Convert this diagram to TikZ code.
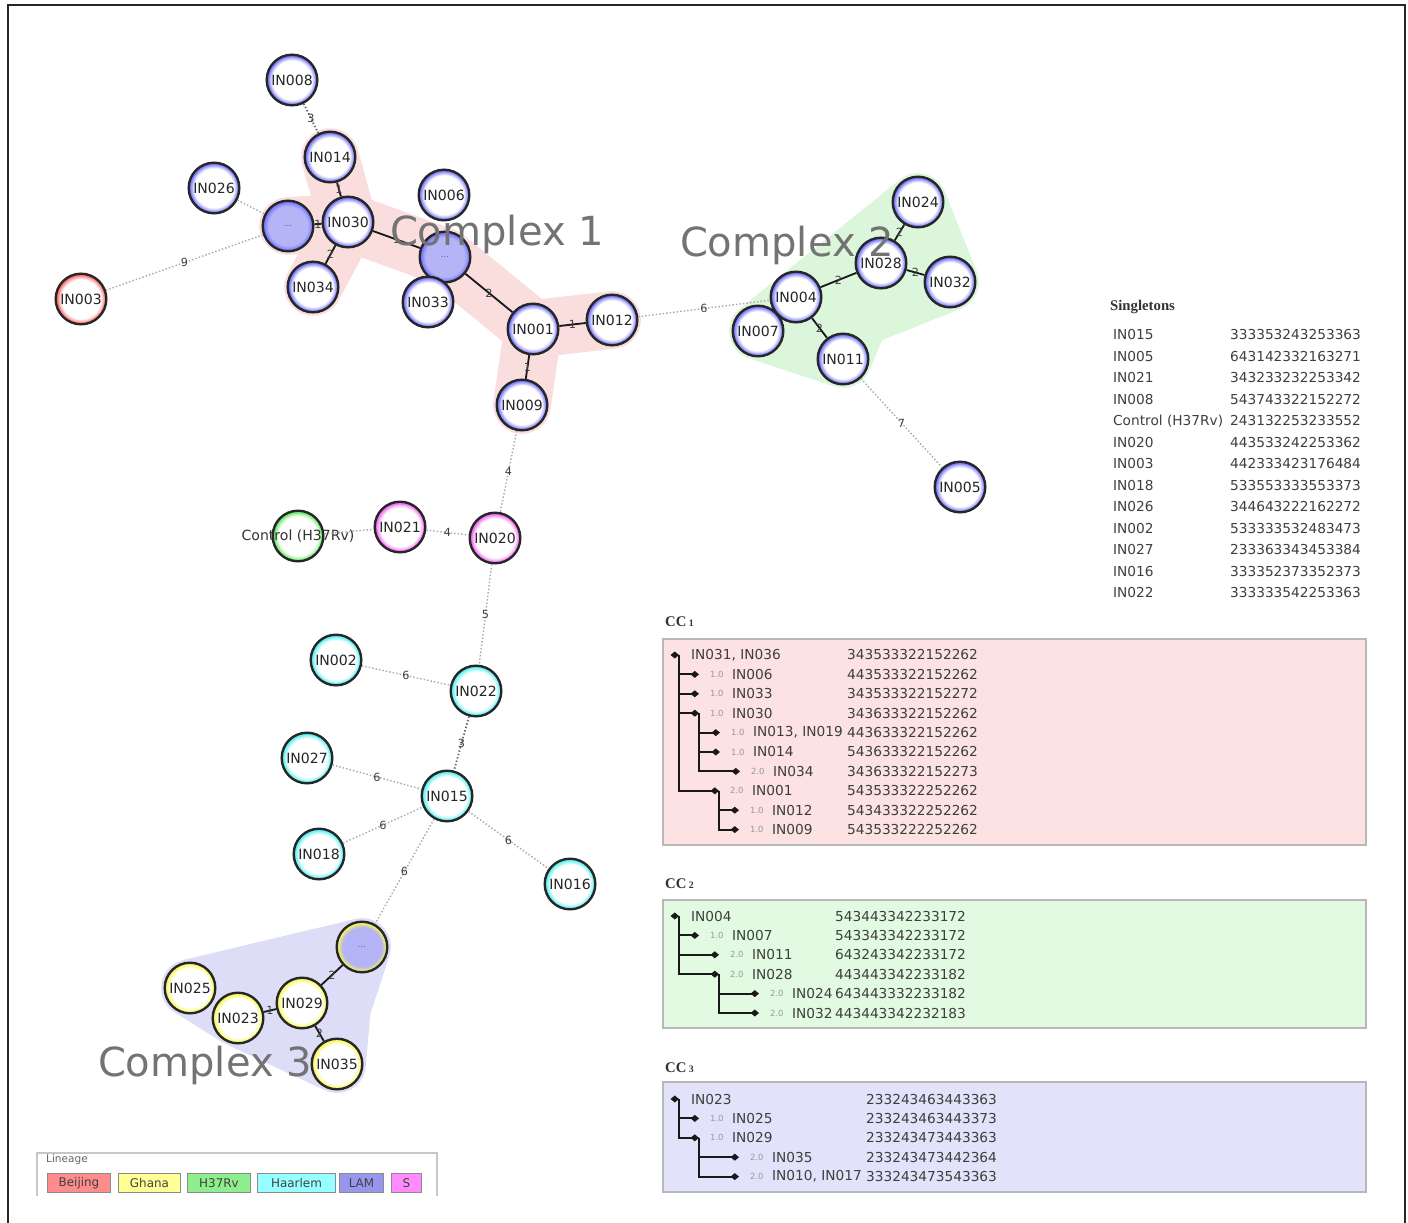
\documentclass[tikz,border=0pt]{standalone}
\usepackage{fontspec}
\setmainfont{DejaVu Sans}
\newfontfamily\headserif{Liberation Serif}
\usepackage{tikz}
\usetikzlibrary{positioning}
\usetikzlibrary{arrows.meta}
\usetikzlibrary{backgrounds}

% lineage colours
\definecolor{ringlam}{RGB}{115,115,255}
\definecolor{ringbeijing}{RGB}{255,105,105}
\definecolor{ringhrv}{RGB}{95,235,95}
\definecolor{ringhaarlem}{RGB}{80,240,240}
\definecolor{rings}{RGB}{245,95,245}
\definecolor{ringghana}{RGB}{248,248,85}
\definecolor{lamfill}{RGB}{180,180,246}
\definecolor{hullpink}{RGB}{250,221,221}
\definecolor{hullgreen}{RGB}{219,246,219}
\definecolor{hullblue}{RGB}{221,221,248}
\definecolor{boxpink}{RGB}{252,226,226}
\definecolor{boxgreen}{RGB}{226,250,226}
\definecolor{boxblue}{RGB}{226,226,250}
\definecolor{swbeijing}{RGB}{255,140,140}
\definecolor{swghana}{RGB}{255,255,150}
\definecolor{swhrv}{RGB}{140,238,140}
\definecolor{swhaarlem}{RGB}{150,255,255}
\definecolor{swlam}{RGB}{150,150,238}
\definecolor{sws}{RGB}{255,140,255}
\definecolor{tabgray}{RGB}{62,62,62}

% white disc with a coloured rim
\newcommand\ringshading[3]{%
  \pgfdeclareradialshading{#1}{\pgfpoint{0bp}{0bp}}%
    {color(0bp)=(#2); color(19.5bp)=(#2); color(24bp)=(#3); color(50bp)=(#3)}}
\ringshading{ringedlam}{white}{ringlam}
\ringshading{ringedbeijing}{white}{ringbeijing}
\ringshading{ringedhrv}{white}{ringhrv}
\ringshading{ringedhaarlem}{white}{ringhaarlem}
\ringshading{ringeds}{white}{rings}
\ringshading{ringedghana}{white}{ringghana}
\ringshading{foldedlam}{lamfill}{ringlam}
\ringshading{foldedghana}{lamfill}{ringghana}

\tikzset{
  strain/.style={circle, draw=black!85, line width=3.4pt, minimum size=72pt,
    inner sep=0pt, font=\fontsize{20}{24}\selectfont, text=black!85},
  lam/.style={strain, shading=ringedlam},
  beijing/.style={strain, shading=ringedbeijing},
  hrv/.style={strain, shading=ringedhrv},
  haarlem/.style={strain, shading=ringedhaarlem},
  sfam/.style={strain, shading=ringeds},
  ghana/.style={strain, shading=ringedghana},
  collapsed/.style={strain, shading=foldedlam, font=\fontsize{12}{14}\selectfont, text=black!60},
  collapsedghana/.style={collapsed, shading=foldedghana},
  strainname/.style={font=\fontsize{20}{24}\selectfont, text=black!80, inner sep=0pt},
  link/.style={draw=black!35, line width=2pt, dash pattern=on 2pt off 3pt},
  closelink/.style={link, draw=black!60, line width=2.6pt},
  tie/.style={draw=black!90, line width=2.6pt},
  elab/.style={font=\fontsize{16}{18}\selectfont, text=black!75, inner sep=1pt},
  cplx/.style={font=\fontsize{57}{60}\selectfont, text=black!55},
  hullstroke/.style={line width=82pt, line cap=round, line join=round},
  outerframe/.style={draw=black!85, line width=4.2pt},
  tabhead/.style={font=\headserif\bfseries\fontsize{21}{24}\selectfont, text=black!80, inner sep=0pt},
  tabtext/.style={font=\fontsize{19.5}{22}\selectfont, text=tabgray, inner sep=0pt},
  brlen/.style={font=\fontsize{12}{13}\selectfont, text=black!40, inner sep=0pt},
  ccbox/.style={draw=black!28, line width=2.4pt},
  branch/.style={draw=black!90, line width=2.8pt, -{Diamond[length=12pt,width=10pt]}},
  swatch/.style={draw=black!45, line width=1.4pt, minimum height=0.95cm, inner sep=0pt,
    anchor=north west, font=\fontsize{17}{18}\selectfont, text=black!75},
}

\begin{document}
\begin{tikzpicture}[x=0.05cm, y=-0.05cm]
  \useasboundingbox (0,0) rectangle (1408,1223);
  \draw[outerframe] (8,1223) -- (8,5) -- (1405,5) -- (1405,1223);

  % complex 1
  \node[lam] (in008) at (292,80) {IN008};
  \node[lam] (in014) at (330,157) {IN014};
  \node[lam] (in026) at (214,188) {IN026};
  \node[collapsed] (dotsa) at (288,226) {...};
  \node[lam] (in030) at (348,222) {IN030};
  \node[lam] (in006) at (444,195) {IN006};
  \node[collapsed] (dotsb) at (445,257) {...};
  \node[lam] (in034) at (313,287) {IN034};
  \node[lam] (in033) at (428,302) {IN033};
  \node[lam] (in001) at (533,329) {IN001};
  \node[lam] (in012) at (612,320) {IN012};
  \node[lam] (in009) at (522,405) {IN009};
  \node[beijing] (in003) at (81,299) {IN003};

  % complex 2
  \node[lam] (in024) at (918,202) {IN024};
  \node[lam] (in028) at (881,263) {IN028};
  \node[lam] (in032) at (950,282) {IN032};
  \node[lam] (in004) at (796,297) {IN004};
  \node[lam] (in007) at (758,331) {IN007};
  \node[lam] (in011) at (843,359) {IN011};
  \node[lam] (in005) at (960,487) {IN005};

  % middle chain
  \node[hrv] (ctrl) at (298,536) {};
  \node[strainname] (ctrlname) at (ctrl) {Control (H37Rv)};
  \node[sfam] (in021) at (400,527) {IN021};
  \node[sfam] (in020) at (495,538) {IN020};
  \node[haarlem] (in002) at (336,660) {IN002};
  \node[haarlem] (in022) at (476,691) {IN022};
  \node[haarlem] (in027) at (307,758) {IN027};
  \node[haarlem] (in015) at (447,796) {IN015};
  \node[haarlem] (in018) at (319,854) {IN018};
  \node[haarlem] (in016) at (570,884) {IN016};

  % complex 3
  \node[collapsedghana] (dotsc) at (362,947) {...};
  \node[ghana] (in025) at (190,988) {IN025};
  \node[ghana] (in023) at (238,1018) {IN023};
  \node[ghana] (in029) at (302,1003) {IN029};
  \node[ghana] (in035) at (337,1064) {IN035};

  % hulls behind the complexes
  \begin{scope}[on background layer]
    \draw[hullstroke, draw=hullpink] (in014.center) -- (in030.center) -- (in034.center);
    \draw[hullstroke, draw=hullpink] (dotsa.center) -- (in030.center) -- (dotsb.center)
      -- (in001.center) -- (in012.center);
    \draw[hullstroke, draw=hullpink] (in001.center) -- (in009.center);
    \filldraw[hullstroke, draw=hullgreen, fill=hullgreen] (in007.center) -- (in024.center)
      -- (in032.center) -- (860,318) -- (in011.center) -- cycle;
    \filldraw[hullstroke, draw=hullblue, fill=hullblue] (in025.center) -- (dotsc.center)
      -- (342,1008) -- (in035.center) -- (in023.center) -- cycle;
  \end{scope}

  % edges
  \draw[closelink] (in008) -- node[elab]{3} (in014);
  \draw[tie] (in014) -- node[elab]{1} (in030);
  \draw[link] (in026) -- (dotsa);
  \draw[tie] (dotsa) -- node[elab]{1} (in030);
  \draw[tie] (in030) -- node[elab]{2} (in034);
  \draw[tie] (in030) -- node[elab]{1} (dotsb);
  \draw[tie] (dotsb) -- node[elab]{2} (in001);
  \draw[tie] (in001) -- node[elab]{1} (in012);
  \draw[tie] (in001) -- node[elab]{1} (in009);
  \draw[link] (dotsa) -- node[elab]{9} (in003);
  \draw[link] (in012) -- node[elab]{6} (in004);
  \draw[tie] (in004) -- node[elab]{2} (in028);
  \draw[tie] (in028) -- node[elab]{2} (in024);
  \draw[tie] (in028) -- node[elab]{2} (in032);
  \draw[tie] (in004) -- node[elab]{2} (in011);
  \draw[link] (in011) -- node[elab]{7} (in005);
  \draw[link] (in009) -- node[elab]{4} (in020);
  \draw[link] (in021) -- node[elab]{4} (in020);
  \draw[link] (ctrl) -- (in021);
  \draw[link] (in020) -- node[elab]{5} (in022);
  \draw[link] (in002) -- node[elab]{6} (in022);
  \draw[closelink] (in022) -- node[elab]{3} (in015);
  \draw[link] (in027) -- node[elab]{6} (in015);
  \draw[link] (in018) -- node[elab]{6} (in015);
  \draw[link] (in015) -- node[elab]{6} (in016);
  \draw[link] (in015) -- node[elab]{6} (dotsc);
  \draw[tie] (dotsc) -- node[elab]{2} (in029);
  \draw[tie] (in023) -- node[elab]{1} (in029);
  \draw[tie] (in029) -- node[elab]{2} (in035);

  \node[cplx] (cx1) at (497,234) {Complex 1};
  \node[cplx] (cx2) at (787,245) {Complex 2};
  \node[cplx] (cx3) at (205,1065) {Complex 3};

  % singletons
  \node[tabhead, anchor=west] (sghead) at (1110,307) {Singletons};
  \foreach \nm/\seq [count=\i] in {IN015/333353243253363, IN005/643142332163271,
      IN021/343233232253342, IN008/543743322152272, Control (H37Rv)/243132253233552,
      IN020/443533242253362, IN003/442333423176484, IN018/533553333553373,
      IN026/344643222162272, IN002/533333532483473, IN027/233363343453384,
      IN016/333352373352373, IN022/333333542253363} {
    \node[tabtext, anchor=west] (sgn\i) at (1113,{335+21.5*(\i-1)}) {\nm};
    \node[tabtext, anchor=west] (sgs\i) at (1230,{335+21.5*(\i-1)}) {\seq};
  }

  % CC 1
  \node[tabhead, anchor=west] (cc1) at (665,622) {CC\,{\fontsize{14}{14}\selectfont 1}};
  \draw[ccbox, fill=boxpink] (663,639) rectangle (1366,845);
  \coordinate (a0) at (679,655);
  \node[tabtext, anchor=west] (an0) at (691,655) {IN031, IN036};
  \node[tabtext, anchor=west] (as0) at (847,655) {343533322152262};
  \foreach \y/\mx/\dl/\nm/\seq [count=\i] in {
      674.4/699/1.0/IN006/443533322152262, 693.8/699/1.0/IN033/343533322152272,
      713.2/699/1.0/IN030/343633322152262, 732.6/720/1.0/{IN013, IN019}/443633322152262,
      752/720/1.0/IN014/543633322152262, 771.4/740/2.0/IN034/343633322152273,
      790.8/719/2.0/IN001/543533322252262, 810.2/739/1.0/IN012/543433322252262,
      829.6/739/1.0/IN009/543533222252262} {
    \coordinate (a\i) at (\mx,\y);
    \node[brlen, anchor=west] (ad\i) at (\mx+11,\y) {\dl};
    \node[tabtext, anchor=west] (an\i) at (\mx+33,\y) {\nm};
    \node[tabtext, anchor=west] (as\i) at (847,\y) {\seq};
  }
  \draw[branch] ([xshift=-10pt]a0) -- (a0);
  \foreach \p/\q in {0/1, 0/2, 0/3, 0/7, 3/4, 3/5, 3/6, 7/8, 7/9}
    \draw[branch] (a\p) |- (a\q);

  % CC 2
  \node[tabhead, anchor=west] (cc2) at (665,884) {CC\,{\fontsize{14}{14}\selectfont 2}};
  \draw[ccbox, fill=boxgreen] (663,900) rectangle (1366,1028);
  \coordinate (b0) at (679,916);
  \node[tabtext, anchor=west] (bn0) at (691,916) {IN004};
  \node[tabtext, anchor=west] (bs0) at (835,916) {543443342233172};
  \foreach \y/\mx/\dl/\nm/\seq [count=\i] in {
      935.4/699/1.0/IN007/543343342233172, 954.8/719/2.0/IN011/643243342233172,
      974.2/719/2.0/IN028/443443342233182, 993.6/759/2.0/IN024/643443332233182,
      1013/759/2.0/IN032/443443342232183} {
    \coordinate (b\i) at (\mx,\y);
    \node[brlen, anchor=west] (bd\i) at (\mx+11,\y) {\dl};
    \node[tabtext, anchor=west] (bn\i) at (\mx+33,\y) {\nm};
    \node[tabtext, anchor=west] (bs\i) at (835,\y) {\seq};
  }
  \draw[branch] ([xshift=-10pt]b0) -- (b0);
  \foreach \p/\q in {0/1, 0/2, 0/3, 3/4, 3/5}
    \draw[branch] (b\p) |- (b\q);

  % CC 3
  \node[tabhead, anchor=west] (cc3) at (665,1068) {CC\,{\fontsize{14}{14}\selectfont 3}};
  \draw[ccbox, fill=boxblue] (663,1082) rectangle (1366,1192);
  \coordinate (c0) at (679,1099);
  \node[tabtext, anchor=west] (cn0) at (691,1099) {IN023};
  \node[tabtext, anchor=west] (cs0) at (866,1099) {233243463443363};
  \foreach \y/\mx/\dl/\nm/\seq [count=\i] in {
      1118.4/699/1.0/IN025/233243463443373, 1137.8/699/1.0/IN029/233243473443363,
      1157.2/739/2.0/IN035/233243473442364, 1176.6/739/2.0/{IN010, IN017}/333243473543363} {
    \coordinate (c\i) at (\mx,\y);
    \node[brlen, anchor=west] (cd\i) at (\mx+11,\y) {\dl};
    \node[tabtext, anchor=west] (cn\i) at (\mx+33,\y) {\nm};
    \node[tabtext, anchor=west] (cs\i) at (866,\y) {\seq};
  }
  \draw[branch] ([xshift=-10pt]c0) -- (c0);
  \foreach \p/\q in {0/1, 0/2, 2/3, 2/4}
    \draw[branch] (c\p) |- (c\q);

  % lineage legend
  \draw[draw=black!22, line width=1.6pt] (37,1196) -- (37,1153) -- (437,1153) -- (437,1196);
  \node[font=\fontsize{15}{16}\selectfont, text=black!60, anchor=west, inner sep=0pt]
    (lgtitle) at (46,1160) {Lineage};
  \foreach \lg/\x/\w/\col in {Beijing/47/63/swbeijing, Ghana/118/62/swghana,
      H37Rv/187/63/swhrv, Haarlem/257/78/swhaarlem, LAM/339/44/swlam, S/391/30/sws}
    \node[swatch, fill=\col, minimum width=\w*0.05cm] (lg\lg) at (\x,1173) {\lg};
\end{tikzpicture}
\end{document}
